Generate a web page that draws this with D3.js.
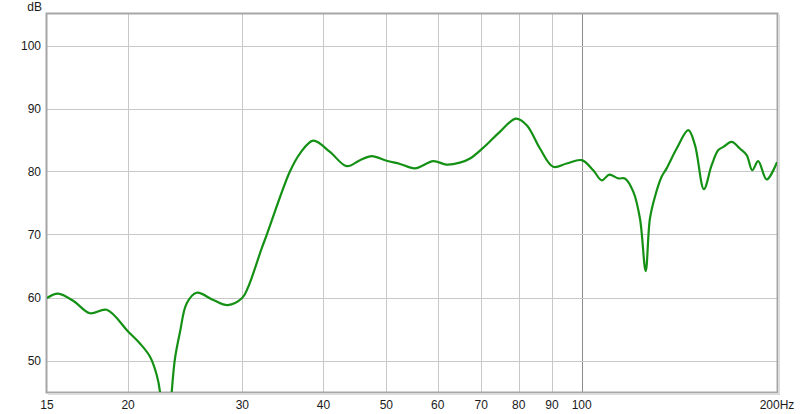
<!DOCTYPE html>
<html lang="en">
<head>
<meta charset="utf-8">
<title>Frequency response</title>
<script src="https://d3js.org/d3.v7.min.js"></script>
<style>
  body { margin: 0; background: #fff; }
  svg { display: block; font-family: "Liberation Sans", Arial, sans-serif; font-size: 12px; }
  .grid line { stroke: #c8c8c8; stroke-width: 1; shape-rendering: crispEdges; }
  .grid line.major { stroke: #8c8c8c; }
  .tick-label { fill: #1a1a1a; }
</style>
</head>
<body>
<div id="chart"></div>
<script>
// measured response (Hz, dB)
var freqs = [15, 15.6, 16.5, 17.47, 18.54, 20, 20.86, 21.62, 22.14, 22.4, 22.85, 23.35, 23.62, 24.05, 24.62, 25.51,
  27.06, 28.48, 30, 30.64, 32.13, 32.7, 35.5, 36.8, 38.58, 40.94, 43.44, 45.54, 47.47, 50.06, 52.5, 55.35,
  59.06, 61.9, 64.9, 67.3, 70.5, 74.8, 79.2, 82.3, 86.25, 90.4, 94.8, 100, 104.2, 107.4, 110.3, 113.9,
  116.6, 120.1, 123, 125.5, 127.4, 129.7, 132.8, 135.2, 140.1, 146, 149.5, 154.3, 158.6, 162.4, 165.3,
  170.3, 175.3, 179.6, 183.2, 187.1, 192.8, 200];
var levels = [59.9, 60.6, 59.4, 57.5, 58.05, 54.6, 52.7, 50.6, 47.7, 45, 32, 45, 50.3, 54.55, 59.05, 60.75,
  59.6, 58.8, 59.95, 61.7, 67.8, 69.9, 79.95, 82.85, 84.9, 83.1, 80.85, 81.8, 82.43, 81.7, 81.2, 80.5,
  81.65, 81.1, 81.4, 82.06, 83.75, 86.3, 88.4, 87.35, 83.65, 80.75, 81.27, 81.8, 80.2, 78.6, 79.5, 78.9,
  78.9, 76.8, 72.5, 64.2, 72.5, 76, 79.16, 80.5, 83.65, 86.56, 84.2, 77.2, 81.0, 83.4, 83.9,
  84.7, 83.65, 82.6, 80.2, 81.65, 78.73, 81.5];

var xTicks = [15, 20, 30, 40, 50, 60, 70, 80, 90, 100, 200];
var xGrid = [20, 30, 40, 50, 60, 70, 80, 90, 100];
var yTicks = [50, 60, 70, 80, 90, 100];

var W = 800, H = 414;
var margin = {top: 14, right: 23, bottom: 22, left: 47};

var svg = d3.select("#chart").append("svg")
    .attr("width", W)
    .attr("height", H);

var x = d3.scaleLog().domain([15, 200]).range([margin.left, W - margin.right]);
var y = d3.scaleLinear().domain([45, 105]).range([H - margin.bottom, margin.top]);

svg.append("clipPath").attr("id", "plot-clip")
  .append("rect")
    .attr("x", margin.left).attr("y", margin.top)
    .attr("width", x.range()[1] - margin.left)
    .attr("height", y.range()[0] - margin.top);

var grid = svg.append("g").attr("class", "grid");
grid.selectAll(".vx").data(xGrid).enter().append("line")
    .attr("class", function(d) { return d === 100 ? "major" : null; })
    .attr("x1", function(d) { return Math.round(x(d)) + 0.5; })
    .attr("x2", function(d) { return Math.round(x(d)) + 0.5; })
    .attr("y1", y.range()[1]).attr("y2", y.range()[0]);
grid.selectAll(".hy").data(yTicks).enter().append("line")
    .attr("x1", x.range()[0]).attr("x2", x.range()[1])
    .attr("y1", function(d) { return Math.round(y(d)) + 0.5; })
    .attr("y2", function(d) { return Math.round(y(d)) + 0.5; });

// frame with a soft inset look
var fx = x.range()[0], fy = y.range()[1], fw = x.range()[1] - fx, fh = y.range()[0] - fy;
svg.append("rect")
    .attr("x", fx - 0.5).attr("y", fy - 0.5).attr("width", fw + 1).attr("height", fh + 1)
    .attr("fill", "none").attr("stroke", "#a6a6a6").attr("stroke-width", 2);
svg.append("path")
    .attr("d", "M" + (fx + fw + 2) + "," + (fy + 1) + "V" + (fy + fh + 2) + "H" + (fx + 1))
    .attr("fill", "none").attr("stroke", "#dcdcdc").attr("stroke-width", 2);

var line = d3.line()
    .x(function(d) { return x(d[0]); })
    .y(function(d) { return y(d[1]); })
    .curve(d3.curveCatmullRom.alpha(0.5));

svg.append("path")
    .datum(d3.zip(freqs, levels))
    .attr("clip-path", "url(#plot-clip)")
    .attr("fill", "none")
    .attr("stroke", "#149114")
    .attr("stroke-width", 2.2)
    .attr("stroke-linejoin", "round")
    .attr("d", line);

svg.selectAll(".xl").data(xTicks).enter().append("text")
    .attr("class", "tick-label")
    .attr("x", function(d) { return x(d); })
    .attr("y", H - 5)
    .attr("text-anchor", "middle")
    .text(function(d) { return d === 200 ? "200Hz" : d; });

svg.selectAll(".yl").data(yTicks).enter().append("text")
    .attr("class", "tick-label")
    .attr("x", 41)
    .attr("y", function(d) { return y(d) + 4; })
    .attr("text-anchor", "end")
    .text(function(d) { return d; });

svg.append("text")
    .attr("class", "tick-label")
    .attr("x", 42).attr("y", 11)
    .attr("text-anchor", "end")
    .text("dB");
</script>
</body>
</html>
